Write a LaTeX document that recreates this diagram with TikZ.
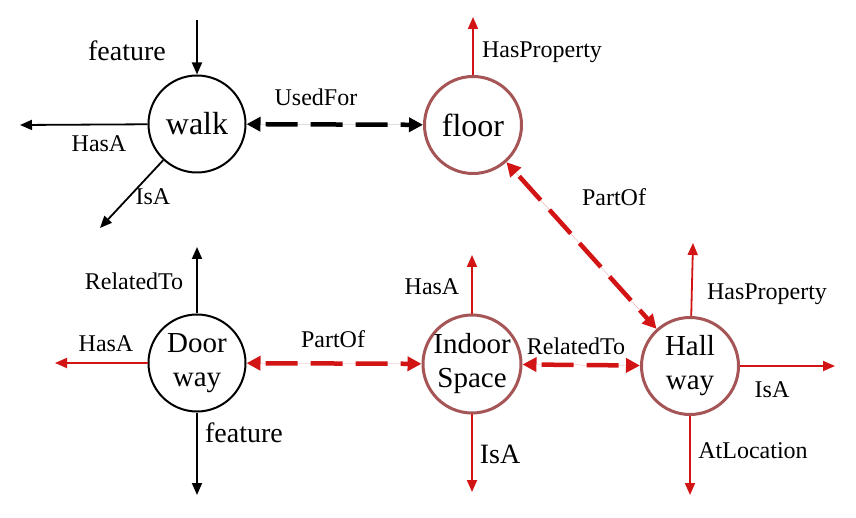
\documentclass[tikz,border=0pt]{standalone}
\usepackage{fontspec}
\setmainfont{Liberation Serif}
\usetikzlibrary{arrows.meta}
\definecolor{arr}{RGB}{210,20,20}
\definecolor{ring}{RGB}{165,85,85}
\begin{document}
\begin{tikzpicture}[x=1pt,y=-1pt,
 concept/.style={circle,draw,line width=2pt,minimum size=97pt,inner sep=0pt,align=center,font=\fontsize{29}{34}\selectfont},
 redconcept/.style={concept,draw=ring,line width=3pt},
 tipend/.style={-{Triangle[length=12pt,width=10pt]}},
 blk/.style={tipend,line width=1.8pt,draw=black},
 rd/.style={tipend,line width=1.8pt,draw=arr,fill=arr},
 dsh/.style={{Triangle[length=14pt,width=14pt]}-{Triangle[length=14pt,width=14pt]},line width=4.5pt,dash pattern=on 32pt off 13pt,dash phase=-6pt},
 lbl/.style={inner sep=0pt,font=\fontsize{24}{24}\selectfont},
 biglbl/.style={inner sep=0pt,font=\fontsize{28}{28}\selectfont}
]
\path[use as bounding box,fill=white] (0,0) rectangle (856,518);

\node[concept,font=\fontsize{32}{34}\selectfont] (walk) at (197,124) {walk};
\node[redconcept,font=\fontsize{32}{34}\selectfont] (floor) at (473,125) {floor};
\node[concept] (door) at (197,363) {Door\\way};
\node[redconcept] (indoor) at (472,364) {Indoor\\Space};
\node[redconcept] (hall) at (690,366) {Hall\\way};

% walk
\coordinate (wf) at (197,20);
\coordinate (wh) at (20,125);
\coordinate (wi) at (100,228);
\draw[blk] (wf) -- (walk);
\draw[blk] (walk) -- (wh);
\draw[blk] (walk) -- (wi);
\draw[dsh,draw=black,fill=black] (walk) -- (floor);
\node[biglbl] (lwf) at (127,51) {feature};
\node[lbl] (lwh) at (99,144) {HasA};
\node[lbl] (lwi) at (153,197) {IsA};
\node[lbl] (luf) at (316,97) {UsedFor};

% floor
\coordinate (fh) at (473,17);
\draw[rd] (floor) -- (fh);
\draw[dsh,draw=arr,fill=arr] (floor) -- (hall);
\node[lbl] (lfh) at (542,52) {HasProperty};
\node[lbl] (lpo) at (614,197) {PartOf};

% doorway
\coordinate (dr) at (197,247);
\coordinate (dh) at (55,363);
\coordinate (df) at (197,495);
\draw[blk] (door) -- (dr);
\draw[rd] (door) -- (dh);
\draw[blk] (door) -- (df);
\draw[dsh,draw=arr,fill=arr] (door) -- (indoor);
\node[lbl] (ldr) at (134,281) {RelatedTo};
\node[lbl] (ldh) at (106,344) {HasA};
\node[biglbl] (ldf) at (244,433) {feature};
\node[lbl] (ldp) at (333,339) {PartOf};

% indoor
\coordinate (ih) at (472,255);
\coordinate (ii) at (472,492);
\draw[rd] (indoor) -- (ih);
\draw[rd] (indoor) -- (ii);
\draw[dsh,draw=arr,fill=arr] (indoor) -- (hall);
\node[lbl] (lih) at (432,287) {HasA};
\node[biglbl] (lii) at (500,454) {IsA};
\node[lbl] (lir) at (576,346) {RelatedTo};

% hallway
\coordinate (hh) at (693,243);
\coordinate (hi) at (835,366);
\coordinate (ha) at (690,495);
\draw[rd] (hall) -- (hh);
\draw[rd] (hall) -- (hi);
\draw[rd] (hall) -- (ha);
\node[lbl] (lhh) at (767,294) {HasProperty};
\node[lbl] (lhi) at (772,390) {IsA};
\node[lbl] (lha) at (753,451) {AtLocation};
\end{tikzpicture}
\end{document}
